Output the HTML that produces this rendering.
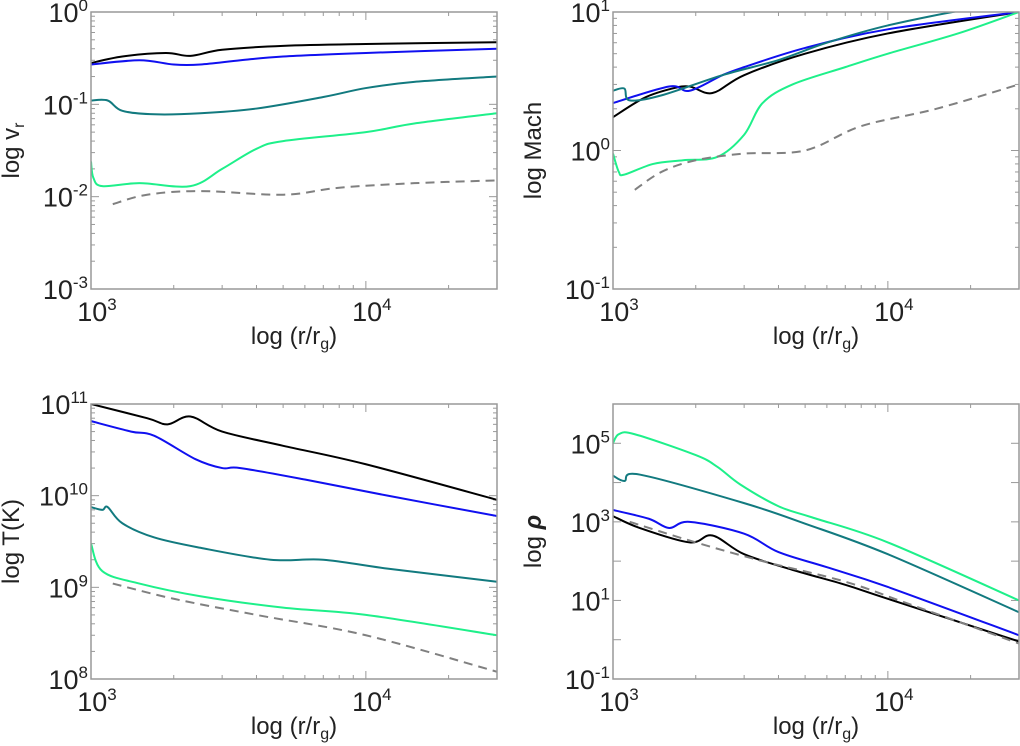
<!DOCTYPE html>
<html><head><meta charset="utf-8"><style>
html,body{margin:0;padding:0;background:#fff;}
svg{display:block;font-family:"Liberation Sans",sans-serif;}
</style></head><body>
<svg id="fig" width="1020" height="746" viewBox="0 0 1020 746" xmlns="http://www.w3.org/2000/svg"></svg>
<script>
// ---- data (x in r/rg, values in linear units) ----
const vrBlackX=[1000,1300,1870,2300,3000,5000,10000,30000];
const vrBlackY=[0.28,0.33,0.36,0.335,0.39,0.43,0.45,0.47];
const vrBlueX=[1000,1500,2000,2500,3500,5000,10000,30000];
const vrBlueY=[0.27,0.30,0.27,0.27,0.30,0.33,0.36,0.40];
const vrTealX=[1000,1150,1300,1700,2500,4000,7000,10000,15000,30000];
const vrTealY=[0.11,0.11,0.085,0.078,0.08,0.09,0.12,0.15,0.175,0.2];
const vrGreenX=[1000,1020,1100,1500,2300,3000,4000,5000,10000,15000,30000];
const vrGreenY=[0.024,0.016,0.013,0.014,0.013,0.02,0.033,0.04,0.05,0.062,0.08];
const vrDashX=[1200,1600,2500,5000,8000,15000,30000];
const vrDashY=[0.0083,0.0105,0.0115,0.0105,0.0125,0.014,0.015];

const maBlackX=[1000,1300,1640,1900,2300,3000,5000,10000,30000];
const maBlackY=[1.74,2.4,2.8,2.9,2.6,3.5,5,7,10];
const maBlueX=[1000,1600,1900,2500,3000,5000,10000,30000];
const maBlueY=[2.2,2.9,2.7,3.5,4,5.5,7.5,10];
const maTealX=[1000,1100,1150,1500,2500,4000,6000,10000,20000,30000];
const maTealY=[2.7,2.8,2.3,2.5,3.5,4.5,6,8,10.5,11];
const maGreenX=[1000,1050,1100,1400,1800,2400,3000,3500,4500,7000,10000,18000,30000];
const maGreenY=[0.95,0.7,0.67,0.8,0.85,0.9,1.3,2.2,3,4,5,7,10];
const maDashX=[1200,1500,2000,3000,5000,8000,15000,30000];
const maDashY=[0.52,0.7,0.85,0.95,1.0,1.5,2,3];

const tBlackX=[1000,1600,1900,2300,3000,5000,10000,30000];
const tBlackY=[1e11,7e10,6e10,7.3e10,5e10,3.5e10,2.2e10,9e9];
const tBlueX=[1000,1400,1700,2400,3000,3500,6000,12000,30000];
const tBlueY=[6.5e10,5e10,4.5e10,2.5e10,2e10,2e10,1.5e10,1e10,6e9];
const tTealX=[1000,1100,1150,1300,1700,2500,4500,7000,12000,30000];
const tTealY=[7.5e9,7e9,7.5e9,5e9,3.5e9,2.7e9,2e9,2e9,1.6e9,1.15e9];
const tGreenX=[1000,1100,1500,2500,5000,10000,30000];
const tGreenY=[3e9,1.5e9,1.1e9,8e8,6e8,5e8,3e8];
const tDashX=[1200,2000,4000,10000,30000];
const tDashY=[1.1e9,7.5e8,5e8,3e8,1.2e8];

const rGreenX=[1000,1050,1200,2000,2400,2900,4000,5300,10000,30000];
const rGreenY=[1e5,1.7e5,1.7e5,5e4,2.5e4,9e3,2.5e3,1.3e3,300,10];
const rTealX=[1000,1100,1250,3000,5000,10000,30000];
const rTealY=[1.5e4,1.1e4,1.6e4,3e3,900,150,5];
const rBlueX=[1000,1350,1600,1900,3000,4000,6000,10000,30000];
const rBlueY=[2e3,1.2e3,700,1000,500,170,70,22,1.3];
const rBlackX=[1000,1250,1900,2300,3000,4500,7000,10000,30000];
const rBlackY=[1.4e3,700,300,450,150,60,25,11,0.9];
const rDashX=[1150,2000,3500,7000,12000,30000];
const rDashY=[1000,300,100,30,8,0.8];

const colors={black:"#000",blue:"#1010f0",teal:"#127a7f",green:"#1ef08a",dash:"#808080"};

const NS="http://www.w3.org/2000/svg";
const svg=document.getElementById("fig");
function mk(tag,attrs,parent){const e=document.createElementNS(NS,tag);for(const k in attrs)e.setAttribute(k,attrs[k]);(parent||svg).appendChild(e);return e;}

function panel(p){
  const g=mk("g",{});
  
  
  const X=v=>p.x0+(Math.log10(v)-3)/(Math.log10(30000)-3)*(p.x1-p.x0);
  const Y=v=>p.y1-(Math.log10(v)-p.ymin)/(p.ymax-p.ymin)*(p.y1-p.y0);
  const clip="c"+p.name;
  const cp=mk("clipPath",{id:clip},g);mk("rect",{x:p.x0,y:p.y0,width:p.x1-p.x0,height:p.y1-p.y0},cp);
  const tk=mk("g",{stroke:"#999","stroke-width":1},g);
  for(let d=3;d<=4;d++)for(let m=1;m<=9;m++){const v=m*Math.pow(10,d);if(v>30000)continue;const x=X(v);const L=m==1?8:4;
    mk("line",{x1:x,y1:p.y1,x2:x,y2:p.y1-L},tk);mk("line",{x1:x,y1:p.y0,x2:x,y2:p.y0+L},tk);}
  for(let d=p.ymin;d<p.ymax;d++)for(let m=1;m<=9;m++){const v=m*Math.pow(10,d);const y=Y(v);const L=m==1?8:4;
    if(m>1 && p.ymax-p.ymin>4) continue;
    mk("line",{x1:p.x0,y1:y,x2:p.x0+L,y2:y},tk);mk("line",{x1:p.x1,y1:y,x2:p.x1-L,y2:y},tk);}
  p.series.forEach(s=>{
    const pts=s.x.map((v,i)=>[X(v),Y(s.y[i])]);
    let d="M"+pts[0][0]+","+pts[0][1];
    for(let i=0;i<pts.length-1;i++){const p0=pts[Math.max(0,i-1)],p1=pts[i],p2=pts[i+1],p3=pts[Math.min(pts.length-1,i+2)];
      d+=" C"+(p1[0]+(p2[0]-p0[0])/6)+","+(p1[1]+(p2[1]-p0[1])/6)+" "+(p2[0]-(p3[0]-p1[0])/6)+","+(p2[1]-(p3[1]-p1[1])/6)+" "+p2[0]+","+p2[1];}
    const path=mk("path",{d:d,fill:"none",stroke:colors[s.c],"stroke-width":2,"clip-path":"url(#"+clip+")"},g);
    if(s.c==="dash")path.setAttribute("stroke-dasharray","9,6");
    
    
  });
  mk("rect",{x:p.x0,y:p.y0,width:p.x1-p.x0,height:p.y1-p.y0,fill:"none",stroke:"#999","stroke-width":1.5},g);
  for(let d=p.ymin;d<=p.ymax;d+=p.ystep){const t=mk("text",{x:p.x0-3,y:Y(Math.pow(10,d))+10,"text-anchor":"end","font-size":27,fill:"#222"},g);
    t.innerHTML='10<tspan dy="-11" font-size="17">'+d+'</tspan>';
    }
  [[1000,3],[10000,4]].forEach(([v,e])=>{const t=mk("text",{x:X(v)+6,y:p.y1+32,"text-anchor":"middle","font-size":27,fill:"#222"},g);
    t.innerHTML='10<tspan dy="-11" font-size="17">'+e+'</tspan>';
    });
  const xl=mk("text",{x:(p.x0+p.x1)/2,y:p.y1+55,"text-anchor":"middle","font-size":24,fill:"#222"},g);
  xl.innerHTML='log (r/r<tspan dy="5" font-size="16">g</tspan><tspan dy="-5">)</tspan>';
  
  const yl=mk("text",{transform:"translate("+(p.x0-72)+","+((p.y0+p.y1)/2)+") rotate(-90)","text-anchor":"middle","font-size":24,fill:"#222"},g);
  yl.innerHTML=p.ylab;
  
}
panel({name:"vr-panel",x0:91,x1:497,y0:12,y1:289,ymin:-3,ymax:0,ystep:1,ylab:'log v<tspan dy="5" font-size="16">r</tspan>',
  series:[{x:vrBlackX,y:vrBlackY,c:"black"},{x:vrBlueX,y:vrBlueY,c:"blue"},{x:vrTealX,y:vrTealY,c:"teal"},{x:vrGreenX,y:vrGreenY,c:"green"},{x:vrDashX,y:vrDashY,c:"dash"}]});
panel({name:"mach-panel",x0:613,x1:1019,y0:12,y1:289,ymin:-1,ymax:1,ystep:1,ylab:'log Mach',
  series:[{x:maBlackX,y:maBlackY,c:"black"},{x:maBlueX,y:maBlueY,c:"blue"},{x:maTealX,y:maTealY,c:"teal"},{x:maGreenX,y:maGreenY,c:"green"},{x:maDashX,y:maDashY,c:"dash"}]});
panel({name:"temp-panel",x0:91,x1:497,y0:404,y1:679,ymin:8,ymax:11,ystep:1,ylab:'log T(K)',
  series:[{x:tBlackX,y:tBlackY,c:"black"},{x:tBlueX,y:tBlueY,c:"blue"},{x:tTealX,y:tTealY,c:"teal"},{x:tGreenX,y:tGreenY,c:"green"},{x:tDashX,y:tDashY,c:"dash"}]});
panel({name:"rho-panel",x0:613,x1:1019,y0:404,y1:679,ymin:-1,ymax:6,ystep:2,ylab:'log <tspan font-weight="bold" font-style="italic">ρ</tspan>',
  series:[{x:rGreenX,y:rGreenY,c:"green"},{x:rTealX,y:rTealY,c:"teal"},{x:rBlueX,y:rBlueY,c:"blue"},{x:rBlackX,y:rBlackY,c:"black"},{x:rDashX,y:rDashY,c:"dash"}]});
</script>
</body></html>
